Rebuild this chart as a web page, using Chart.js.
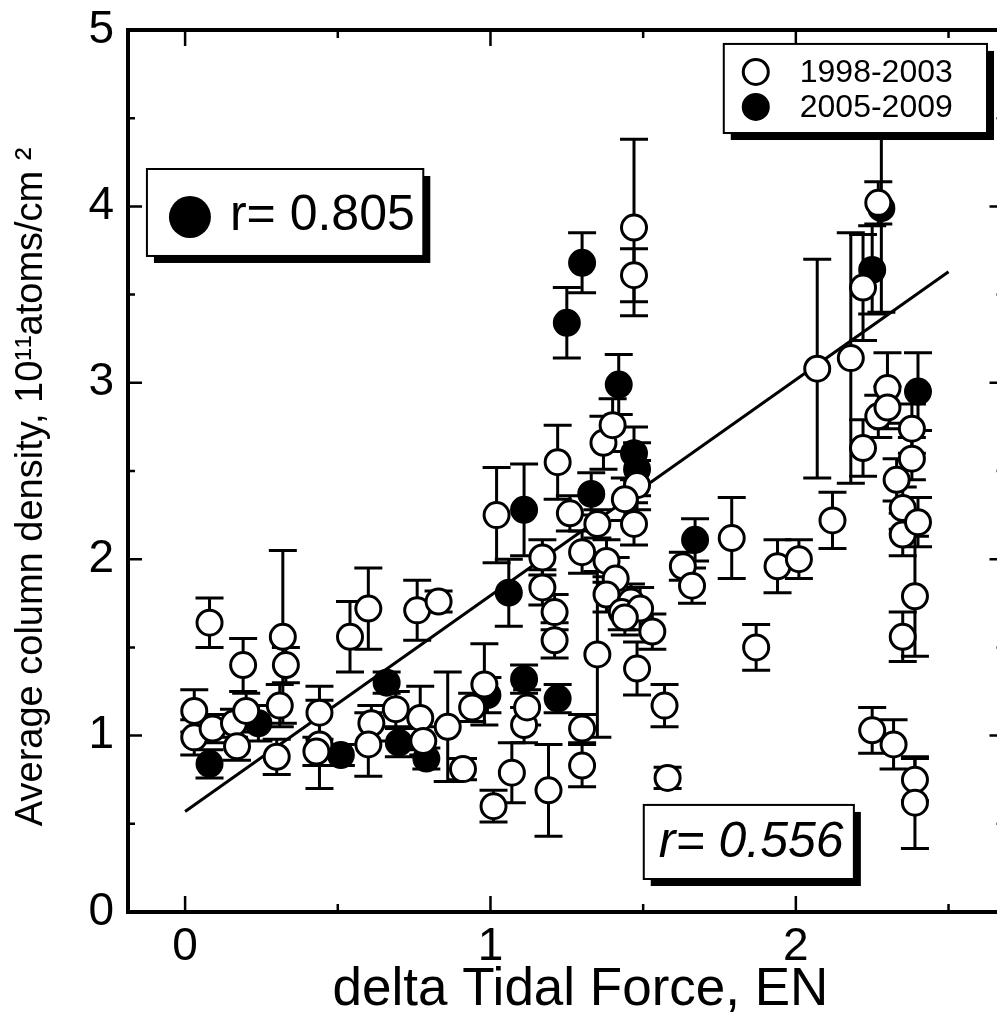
<!DOCTYPE html>
<html>
<head>
<meta charset="utf-8">
<script src="https://cdn.jsdelivr.net/npm/chart.js@4.4.1/dist/chart.umd.min.js"></script>
<style>
html, body { margin: 0; padding: 0; background: #fff; overflow: hidden; }
#wrap { width: 1019px; height: 1024px; }
</style>
</head>
<body>
<div id="wrap"><canvas id="myChart" width="1019" height="1024"></canvas></div>
<script>
// 1998-2003, open circles
const openX = [0.08, 0.03, 0.03, 0.09, 0.16, 0.17, 0.19, 0.20, 0.30, 0.32, 0.33, 0.31, 0.44, 0.44, 0.43,
  0.54, 0.60, 0.61, 0.60, 0.69, 0.76, 0.83, 0.77, 0.78, 0.86, 0.91, 0.94, 0.98, 1.01, 1.07,
  1.11, 1.12, 1.02, 1.17, 1.17, 1.21, 1.21, 1.22, 1.19, 1.30, 1.30, 1.30, 1.26, 1.35, 1.37,
  1.40, 1.35, 1.38, 1.41, 1.38, 1.46, 1.43, 1.49, 1.44, 1.48, 1.44, 1.47, 1.53, 1.47, 1.47,
  1.48, 1.57, 1.58, 1.63, 1.66, 1.79, 1.87, 1.94, 2.01, 2.07, 2.12, 2.18, 2.22, 2.22, 2.27,
  2.27, 2.30, 2.30, 2.33, 2.35, 2.35, 2.38, 2.38, 2.40, 2.39, 2.35, 2.25, 2.32, 2.39, 2.39];
const openY = [1.64, 1.14, 0.99, 1.04, 1.07, 0.94, 1.40, 1.14, 0.88, 1.56, 1.40, 1.17, 1.13, 0.95, 0.91,
  1.56, 1.72, 1.07, 0.95, 1.15, 1.71, 1.76, 1.10, 0.97, 1.05, 0.81, 1.16, 1.29, 0.60, 0.79,
  1.06, 1.16, 2.25, 2.01, 1.84, 1.70, 1.54, 2.55, 0.69, 1.04, 0.83, 2.04, 2.26, 2.20, 2.66,
  2.76, 1.46, 1.99, 1.89, 1.80, 1.76, 1.70, 1.72, 1.67, 2.42, 2.34, 2.20, 1.59, 3.88, 3.61,
  1.38, 1.17, 0.76, 1.96, 1.85, 2.12, 1.50, 1.96, 2.00, 3.08, 2.22, 3.14, 3.54, 2.63, 2.81,
  4.02, 2.97, 2.86, 2.45, 2.29, 2.14, 2.57, 2.74, 2.21, 1.79, 1.56, 1.03, 0.95, 0.75, 0.62];
const openErr = [0.14, 0.12, 0.10, 0.08, 0.08, 0.08, 0.15, 0.10, 0.10, 0.49, 0.10, 0.12, 0.15, 0.25, 0.08,
  0.20, 0.23, 0.10, 0.18, 0.10, 0.17, 0.06, 0.18, 0.08, 0.31, 0.06, 0.08, 0.23, 0.09, 0.17,
  0.10, 0.10, 0.27, 0.10, 0.10, 0.10, 0.10, 0.21, 0.26, 0.08, 0.12, 0.12, 0.10, 0.08, 0.15,
  0.15, 0.47, 0.12, 0.12, 0.10, 0.10, 0.10, 0.12, 0.10, 0.14, 0.12, 0.12, 0.10, 0.50, 0.15,
  0.15, 0.12, 0.06, 0.08, 0.10, 0.23, 0.13, 0.15, 0.11, 0.62, 0.16, 0.71, 0.30, 0.16, 0.12,
  0.12, 0.20, 0.12, 0.12, 0.12, 0.12, 0.12, 0.14, 0.14, 0.34, 0.14, 0.13, 0.14, 0.12, 0.26];

// 2005-2009, filled circles
const fullX = [0.08, 0.24, 0.51, 0.66, 0.70, 0.79, 0.99, 1.06, 1.11, 1.11, 1.22, 1.25, 1.30, 1.33,
  1.42, 1.47, 1.48, 1.67, 2.25, 2.28, 2.40];
const fullY = [0.84, 1.07, 0.89, 1.30, 0.96, 0.87, 1.23, 1.81, 2.28, 1.32, 1.21, 3.34, 3.68, 2.37,
  2.99, 2.60, 2.51, 2.11, 3.64, 3.99, 2.95];
const fullErr = [0.08, 0.10, 0.06, 0.06, 0.08, 0.06, 0.10, 0.19, 0.26, 0.08, 0.08, 0.20, 0.17, 0.12,
  0.17, 0.15, 0.15, 0.12, 0.25, 0.59, 0.22];

// regression line
const fitX = [0, 2.5];
const fitY = [0.57, 3.63];

const seriesNames = ['1998-2003', '2005-2009'];
const rLabels = ['r= 0.805', 'r= 0.556'];
const xTickLabels = [0, 1, 2];
const yTickLabels = [0, 1, 2, 3, 4, 5];

const FONT = "'Liberation Sans', Arial, Helvetica, sans-serif";
Chart.defaults.font.family = FONT;
Chart.defaults.color = '#000';

const toPts = (xs, ys) => xs.map((x, i) => ({x: x, y: ys[i]}));

// error bars under the markers
const errorBars = {
  id: 'errorBars',
  beforeDatasetsDraw(chart) {
    const ctx = chart.ctx, sx = chart.scales.x, sy = chart.scales.y;
    ctx.save();
    ctx.strokeStyle = '#000';
    ctx.lineWidth = 3;
    chart.data.datasets.forEach(ds => {
      if (!ds.errors) return;
      ds.data.forEach((p, i) => {
        const px = sx.getPixelForValue(p.x);
        const top = sy.getPixelForValue(p.y + ds.errors[i]);
        const bot = sy.getPixelForValue(p.y - ds.errors[i]);
        ctx.beginPath();
        ctx.moveTo(px, top); ctx.lineTo(px, bot);
        ctx.moveTo(px - 14, top); ctx.lineTo(px + 14, top);
        ctx.moveTo(px - 14, bot); ctx.lineTo(px + 14, bot);
        ctx.stroke();
      });
    });
    ctx.restore();
  }
};

// box with inward ticks on all sides
const frame = {
  id: 'frame',
  afterDatasetsDraw(chart) {
    const {ctx, chartArea: a, scales: {x, y}} = chart;
    ctx.save();
    ctx.strokeStyle = '#000';
    ctx.lineWidth = 2.5;
    ctx.beginPath();
    x.ticks.forEach(t => {
      const px = x.getPixelForValue(t.value);
      const len = Number.isInteger(t.value) ? 16 : 8;
      ctx.moveTo(px, a.bottom); ctx.lineTo(px, a.bottom - len);
      ctx.moveTo(px, a.top); ctx.lineTo(px, a.top + len);
    });
    y.ticks.forEach(t => {
      const py = y.getPixelForValue(t.value);
      const len = Number.isInteger(t.value) ? 14 : 7;
      ctx.moveTo(a.left, py); ctx.lineTo(a.left + len, py);
      ctx.moveTo(a.right, py); ctx.lineTo(a.right - len, py);
    });
    ctx.stroke();
    ctx.lineWidth = 4;
    ctx.strokeRect(a.left, a.top, a.right - a.left, a.bottom - a.top);
    ctx.restore();
  }
};

function shadowBox(ctx, l, t, r, b) {
  ctx.fillStyle = '#000';
  ctx.fillRect(l + 7, t + 7, r - l, b - t);
  ctx.fillStyle = '#fff';
  ctx.fillRect(l, t, r - l, b - t);
  ctx.lineWidth = 2;
  ctx.strokeStyle = '#000';
  ctx.strokeRect(l, t, r - l, b - t);
}

function circle(ctx, cx, cy, r, filled) {
  ctx.beginPath();
  ctx.arc(cx, cy, r, 0, Math.PI * 2);
  ctx.fillStyle = filled ? '#000' : '#fff';
  ctx.fill();
  ctx.lineWidth = 3;
  ctx.strokeStyle = '#000';
  ctx.stroke();
}

// legend and r-value boxes
const boxes = {
  id: 'boxes',
  afterDraw(chart) {
    const {ctx, scales: {x, y}} = chart;
    ctx.save();
    ctx.textBaseline = 'middle';
    ctx.textAlign = 'left';

    // legend
    let l = x.getPixelForValue(1.764), r = x.getPixelForValue(2.626);
    let t = y.getPixelForValue(4.921), b = y.getPixelForValue(4.416);
    shadowBox(ctx, l, t, r, b);
    ctx.font = '32px ' + FONT;
    chart.data.datasets.slice(0, 2).forEach((ds, i) => {
      const cy = t + 28 + i * 35;
      circle(ctx, l + 32, cy, 12.5, i === 1);
      ctx.fillStyle = '#000';
      ctx.fillText(ds.label, l + 76, cy + 1);
    });

    // r for 2005-2009
    l = x.getPixelForValue(-0.125); r = x.getPixelForValue(0.78);
    t = y.getPixelForValue(4.212); b = y.getPixelForValue(3.719);
    shadowBox(ctx, l, t, r, b);
    ctx.beginPath();
    ctx.arc(l + 43, t + 48, 21, 0, Math.PI * 2);
    ctx.fillStyle = '#000';
    ctx.fill();
    ctx.font = '50px ' + FONT;
    ctx.fillText(rLabels[0], l + 83, t + 47);

    // r for 1998-2003
    l = x.getPixelForValue(1.502); r = x.getPixelForValue(2.19);
    t = y.getPixelForValue(0.607); b = y.getPixelForValue(0.187);
    shadowBox(ctx, l, t, r, b);
    ctx.font = 'italic 50px ' + FONT;
    ctx.fillStyle = '#000';
    ctx.fillText(rLabels[1], l + 15, t + 38);
    ctx.restore();
  }
};

const ctx = document.getElementById('myChart').getContext('2d');
new Chart(ctx, {
  type: 'scatter',
  data: {
    datasets: [{
      label: seriesNames[0],
      data: toPts(openX, openY),
      errors: openErr,
      pointRadius: 12.5,
      pointHoverRadius: 12.5,
      borderWidth: 3,
      borderColor: '#000',
      backgroundColor: '#fff',
      order: 0
    }, {
      label: seriesNames[1],
      data: toPts(fullX, fullY),
      errors: fullErr,
      pointRadius: 12.5,
      pointHoverRadius: 12.5,
      borderWidth: 3,
      borderColor: '#000',
      backgroundColor: '#000',
      order: 1
    }, {
      type: 'line',
      label: 'fit',
      data: toPts(fitX, fitY),
      showLine: true,
      borderColor: '#000',
      borderWidth: 3,
      pointRadius: 0,
      fill: false,
      order: 2
    }]
  },
  options: {
    responsive: false,
    animation: false,
    events: [],
    layout: { padding: { top: 0, right: 7, left: 0, bottom: 0 } },
    plugins: { legend: { display: false }, tooltip: { enabled: false } },
    scales: {
      x: {
        type: 'linear',
        min: -0.187,
        max: 2.68,
        grid: { display: false, drawTicks: false },
        border: { display: false },
        ticks: {
          stepSize: 0.5,
          includeBounds: false,
          maxRotation: 0,
          autoSkip: false,
          padding: 8,
          font: { size: 46 },
          callback: v => xTickLabels.includes(v) ? String(v) : ''
        },
        title: {
          display: true,
          // leading spaces nudge the title right, as in the original figure
          text: '  delta Tidal Force, EN',
          font: { size: 53 },
          padding: { top: 0, bottom: 2 }
        },
        afterFit: s => { s.height = 112; }
      },
      y: {
        type: 'linear',
        min: 0,
        max: 5,
        grid: { display: false, drawTicks: false },
        border: { display: false },
        ticks: {
          stepSize: 0.5,
          autoSkip: false,
          padding: 14,
          font: { size: 46 },
          callback: v => yTickLabels.includes(v) ? String(v) : ''
        },
        title: {
          display: true,
          text: 'Average column density, 10\u00b9\u00b9atoms/cm \u00b2   ',
          font: { size: 38 },
          padding: { top: 9, bottom: 0 }
        },
        afterFit: s => { s.width = 128; s.paddingTop = 30; s.paddingBottom = 0; }
      }
    }
  },
  plugins: [errorBars, frame, boxes]
});
</script>
</body>
</html>
